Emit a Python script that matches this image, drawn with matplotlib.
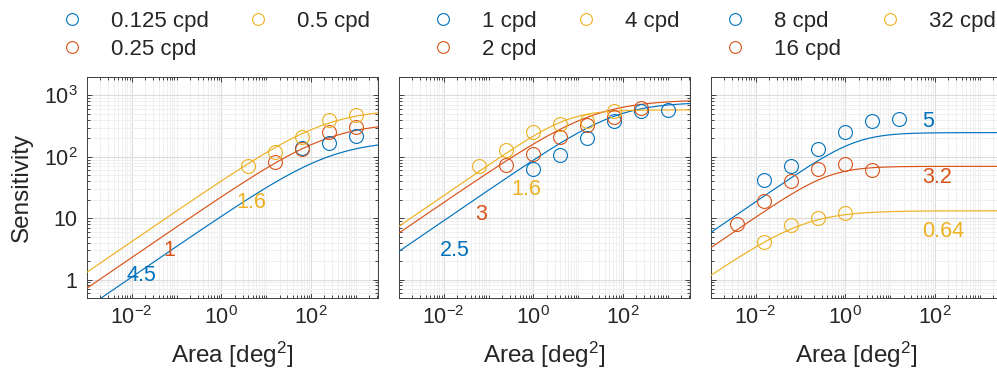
import numpy as np
import matplotlib
matplotlib.use("Agg")
import matplotlib.pyplot as plt
from matplotlib.lines import Line2D
from matplotlib.ticker import LogLocator, NullFormatter, FixedLocator, FixedFormatter

plt.rcParams['font.family'] = ['Liberation Sans', 'DejaVu Sans']
plt.rcParams['mathtext.default'] = 'regular'

BLUE, RED, YELLOW = '#0072BD', '#D95319', '#EDB120'
TXT = '#262626'

# ---------------- data ----------------
# panel 1
p1_labels = ['0.125 cpd', '0.25 cpd', '0.5 cpd']
p1_area = [[64, 256, 1024], [16, 64, 256, 1024], [4, 16, 64, 256, 1024]]
p1_sens = [[139, 169, 216], [83, 133, 258, 310], [70, 120, 207, 400, 473]]
p1_smax = [186, 363, 603]          # fitted plateau
p1_s1 = [11.0, 22.9, 41.7]         # asymptote value at area = 1
p1_shape = [0.6, 0.6, 0.6]
p1_notes = ['4.5', '1', '1.6']
p1_note_x = [0.0164, 0.0707, 4.73]
p1_note_y = [1.15, 2.92, 17.9]

# panel 2
p2_labels = ['1 cpd', '2 cpd', '4 cpd']
p2_area = [[1, 4, 16, 64, 256, 1024], [0.25, 1, 4, 16, 64, 256],
           [0.0625, 0.25, 1, 4, 16, 64]]
p2_sens = [[63, 107, 200, 380, 550, 589], [74, 112, 214, 324, 447, 631],
           [71, 129, 251, 347, 389, 550]]
p2_smax = [776, 851, 582]
p2_s1 = [91.2, 182, 234]
p2_shape = [0.7, 0.6, 1.0]
p2_notes = ['2.5', '3', '1.6']
p2_note_x = [0.018, 0.0687, 0.697]
p2_note_y = [2.92, 11.6, 29.5]

# panel 3
p3_labels = ['8 cpd', '16 cpd', '32 cpd']
p3_area = [[1/64, 1/16, 1/4, 1, 4, 16], [1/256, 1/64, 1/16, 1/4, 1, 4],
           [1/64, 1/16, 1/4, 1]]
p3_sens = [[42, 72, 135, 257, 389, 407], [8.1, 19, 40, 63, 75, 62],
           [4.1, 7.7, 10, 12.3]]
p3_smax = [248, 70, 13.2]
p3_s1 = [186, 105, 38]
p3_shape = [1.0, 1.0, 0.7]
p3_notes = ['5', '3.2', '0.64']
p3_note_x = [69.5, 114, 155]
p3_note_y = [383, 45.9, 5.96]

xticks = [1e-2, 1, 1e2]
xticklabels = ['$10^{-2}$', '$10^{0}$', '$10^{2}$']
yticks = [1, 10, 100, 1000]
yticklabels = ['1', '10', '$10^{2}$', '$10^{3}$']


def fit_curve(area, smax, s1, p):
    ls, a = np.log10(smax), np.log10(s1)
    xc = 2 * (ls - a)
    return 10 ** (ls - np.log10(1 + 10 ** (p * (xc - np.log10(area)))) / (2 * p))


W, H = 997, 382
fig = plt.figure(figsize=(W / 100, H / 100), dpi=100)

panels = [
    (p1_labels, p1_area, p1_sens, p1_smax, p1_s1, p1_shape, p1_notes, p1_note_x, p1_note_y),
    (p2_labels, p2_area, p2_sens, p2_smax, p2_s1, p2_shape, p2_notes, p2_note_x, p2_note_y),
    (p3_labels, p3_area, p3_sens, p3_smax, p3_s1, p3_shape, p3_notes, p3_note_x, p3_note_y),
]
ax_left = [87, 399, 711]
ax_w, ax_top, ax_bot = 291, 77, 298
leg_x = [61, 432, 723.5]
colors = [BLUE, RED, YELLOW]
xs = np.logspace(-3, 3.5, 400)

for i, (labs, areas, sens, smax, s1, shp, notes, nx, ny) in enumerate(panels):
    ax = fig.add_axes([ax_left[i] / W, 1 - ax_bot / H, ax_w / W, (ax_bot - ax_top) / H])
    ax.set_xscale('log')
    ax.set_yscale('log')
    ax.set_xlim(1e-3, 10 ** 3.5)
    ax.set_ylim(0.5, 2000)
    ax.set_axisbelow(True)
    handles = []
    for j in range(3):
        c = colors[j]
        ax.plot(xs, fit_curve(xs, smax[j], s1[j], shp[j]), color=c, lw=0.85, zorder=3)
        ax.plot(areas[j], sens[j], 'o', mfc='none', mec=c, ms=10, mew=0.8, zorder=4)
        ax.text(nx[j], ny[j], notes[j], color=c, fontsize=15.5, ha='center', va='center', zorder=5)
        handles.append(Line2D([], [], ls='none', marker='o', mfc='none', mec=c, ms=8.5, mew=0.8))
    ax.xaxis.set_major_locator(FixedLocator(xticks))
    ax.xaxis.set_major_formatter(FixedFormatter(xticklabels))
    ax.xaxis.set_minor_locator(LogLocator(base=10, subs=np.arange(1, 10), numticks=30))
    ax.xaxis.set_minor_formatter(NullFormatter())
    ax.yaxis.set_major_locator(FixedLocator(yticks))
    ax.yaxis.set_minor_locator(LogLocator(base=10, subs=np.arange(1, 10), numticks=30))
    ax.yaxis.set_minor_formatter(NullFormatter())
    if i == 0:
        ax.yaxis.set_major_formatter(FixedFormatter(yticklabels))
        ax.set_ylabel('Sensitivity', fontsize=17.5, color=TXT)
        ax.yaxis.set_label_coords(-0.185, 0.5)
    else:
        ax.yaxis.set_major_formatter(NullFormatter())
    ax.set_xlabel('Area [deg$^2$]', fontsize=17.5, color=TXT)
    ax.xaxis.set_label_coords(0.5, -0.19)
    ax.grid(True, which='minor', color='#efefef', lw=0.7)
    ax.grid(True, which='major', color='#dcdcdc', lw=0.8)
    ax.tick_params(which='both', direction='in', top=True, right=True, colors=TXT,
                   labelsize=15.5, width=0.6)
    ax.tick_params(which='major', length=3.5)
    ax.tick_params(which='minor', length=2)
    ax.tick_params(axis='x', pad=6)
    ax.tick_params(axis='y', pad=7)
    for s in ax.spines.values():
        s.set_color('#404040')
        s.set_linewidth(0.7)
    ax.legend(handles, labs, ncol=2, loc='upper left',
              bbox_to_anchor=(leg_x[i] / W, 1 - 11 / H), bbox_transform=fig.transFigure,
              frameon=False, fontsize=16, handlelength=1.0, handletextpad=1.26,
              columnspacing=1.7, borderpad=0, borderaxespad=0, labelspacing=0.3,
              labelcolor=TXT)

fig.savefig('out.png', dpi=100)
